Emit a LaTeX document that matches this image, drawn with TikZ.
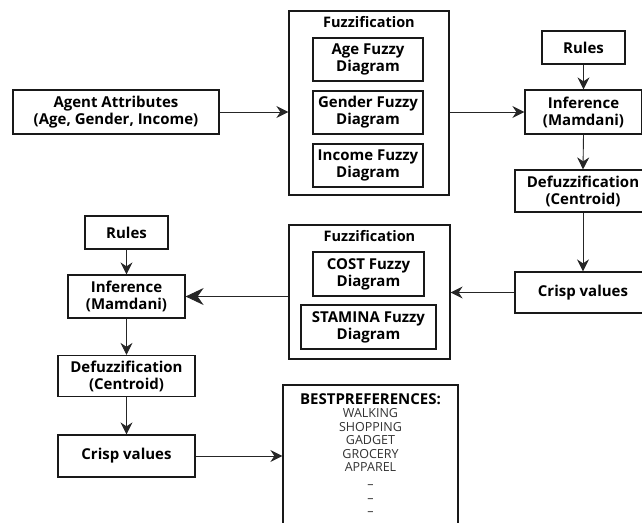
\documentclass[tikz,border=0pt]{standalone}
\usepackage{fontspec}
\setmainfont{Open Sans}
\usetikzlibrary{arrows.meta}
\begin{document}
\begin{tikzpicture}[x=1pt,y=-1pt,
  box/.style={draw=black!90, line width=1.2pt, rectangle, inner sep=0pt, align=center, font=\bfseries\fontsize{15}{17}\selectfont},
  ttl/.style={inner sep=0pt, font=\bfseries\fontsize{14.5}{17}\selectfont},
  conn/.style={draw=black!85, line width=0.9pt, -{Stealth[length=12pt,width=12pt,inset=4pt]}},
  bigconn/.style={draw=black!85, line width=0.9pt, -{Stealth[length=18pt,width=17pt,inset=6pt]}}
]
\clip (0,0) rectangle (642,522);
\fill[white] (0,0) rectangle (642,522);
% top row
\node[box, minimum width=206pt, minimum height=44pt] (agent) at (116,112) {Agent Attributes\\(Age, Gender, Income)};
\node[box, minimum width=160pt, minimum height=184pt] (fuzz1) at (369,103) {};
\node[ttl] (fuzz1t) at (369,22) {Fuzzification};
\node[box, minimum width=110pt, minimum height=43pt] (age) at (368,59.5) {Age Fuzzy\\Diagram};
\node[box, minimum width=110pt, minimum height=43pt] (gender) at (368,112.5) {Gender Fuzzy\\Diagram};
\node[box, minimum width=110pt, minimum height=43pt] (income) at (368,165.5) {Income Fuzzy\\Diagram};
\node[box, minimum width=83pt, minimum height=33pt] (rules1) at (583.5,47.5) {Rules};
\node[box, minimum width=117pt, minimum height=44pt] (inf1) at (583.5,112) {Inference\\(Mamdani)};
\node[box, minimum width=136pt, minimum height=42pt] (defuzz1) at (583,191) {Defuzzification\\(Centroid)};
\node[box, minimum width=136pt, minimum height=41pt] (crisp1) at (583,292.5) {Crisp values};
% middle row
\node[box, minimum width=161pt, minimum height=134pt] (fuzz2) at (369.5,292) {};
\node[ttl] (fuzz2t) at (369.5,236) {Fuzzification};
\node[box, minimum width=111pt, minimum height=44pt] (cost) at (368.5,274) {COST Fuzzy\\Diagram};
\node[box, minimum width=135pt, minimum height=44pt] (stamina) at (368.5,327) {STAMINA Fuzzy\\Diagram};
\node[box, minimum width=83pt, minimum height=33pt] (rules2) at (126.5,232.5) {Rules};
\node[box, minimum width=117pt, minimum height=43pt] (inf2) at (126.5,296.5) {Inference\\(Mamdani)};
\node[box, minimum width=137pt, minimum height=41pt] (defuzz2) at (126.5,376) {Defuzzification\\(Centroid)};
\node[box, minimum width=137pt, minimum height=42pt] (crisp2) at (126.5,456) {Crisp values};
% best preferences
\node[box, minimum width=175pt, minimum height=160pt] (best) at (370.5,465) {};
\node[inner sep=0pt, anchor=north, align=center, text=black!80, font=\fontsize{12.5}{13.5}\selectfont] (bestt) at (370.5,393)
  {{\bfseries\color{black}\fontsize{15}{14}\selectfont BESTPREFERENCES:}\\WALKING\\SHOPPING\\GADGET\\GROCERY\\APPAREL\\[3.5pt]–\\–\\–};
% connectors
\draw[conn] (agent.east) -- (agent.east -| fuzz1.west);
\draw[conn] (inf1.west -| fuzz1.east) -- (inf1.west);
\draw[conn] (rules1.south) -- (inf1.north);
\draw[conn] (inf1.south) -- (defuzz1.north);
\draw[conn] (defuzz1.south) -- (crisp1.north);
\draw[conn] (crisp1.west) -- (crisp1.west -| fuzz2.east);
\draw[bigconn] (inf2.east -| fuzz2.west) -- (inf2.east);
\draw[conn] (rules2.south) -- (inf2.north);
\draw[conn] (inf2.south) -- (defuzz2.north);
\draw[conn] (defuzz2.south) -- (crisp2.north);
\draw[conn] (crisp2.east) -- (crisp2.east -| best.west);
\end{tikzpicture}
\end{document}
